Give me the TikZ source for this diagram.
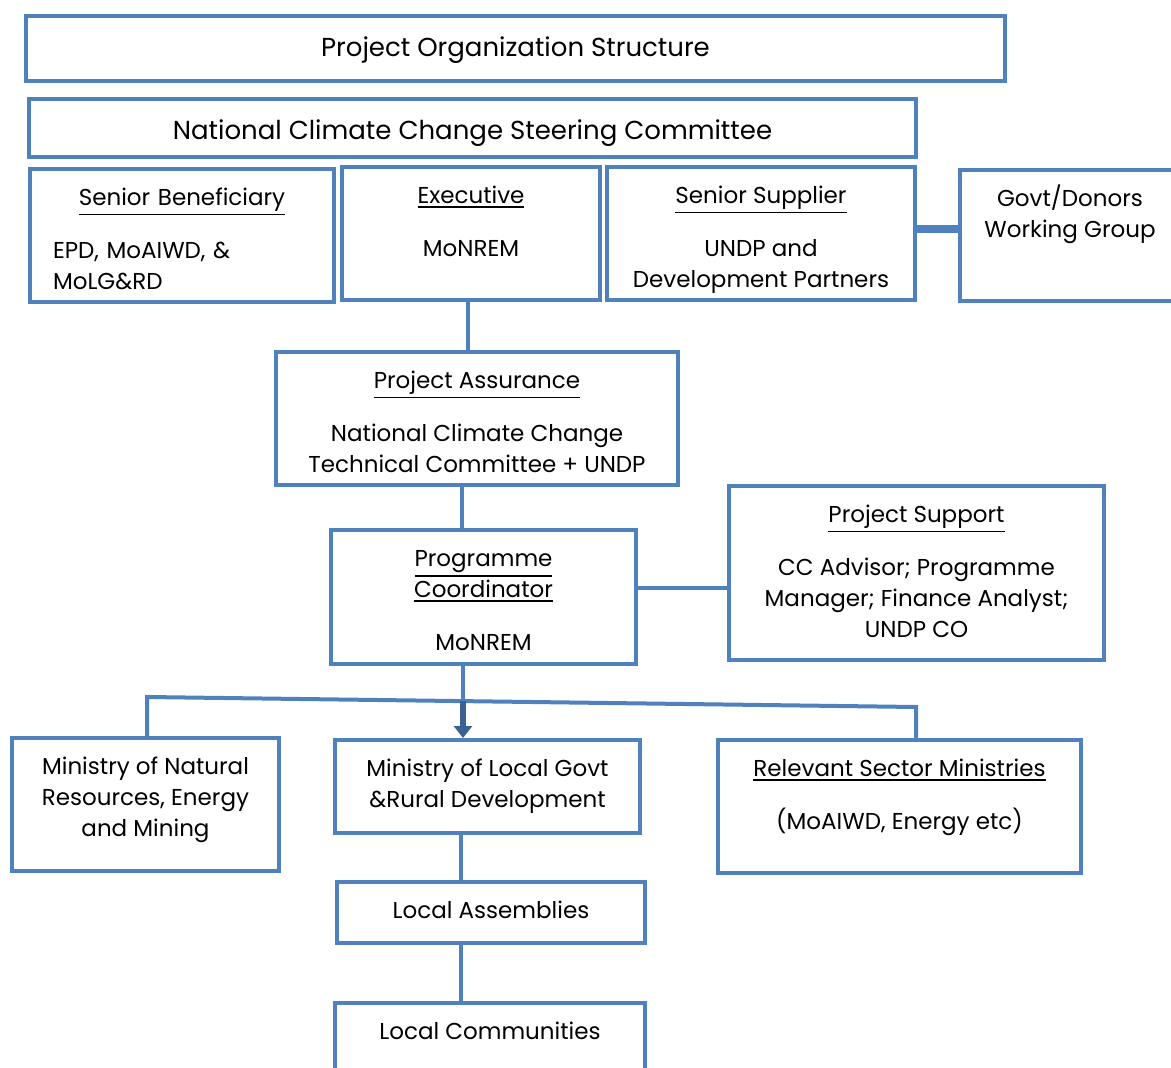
\documentclass[tikz,border=0pt]{standalone}
\usepackage{fontspec}
\setmainfont{Poppins}
\usetikzlibrary{arrows.meta, positioning}
\definecolor{ccblue}{HTML}{4F81BD}
\definecolor{ccdark}{HTML}{3A6293}
\newcommand{\undl}[1]{\setbox0\hbox{#1}\rlap{\vrule width\wd0 height -\dimexpr\dp0+2pt\relax depth \dimexpr\dp0+3.5pt\relax}\box0}

\tikzset{
  box/.style 2 args={draw=ccblue, line width=4pt, minimum width=#1, minimum height=#2, inner sep=0pt},
  txt/.style={anchor=north, yshift=-17pt, inner sep=0pt, align=center, font=\fontsize{23}{31}\selectfont},
  head/.style={txt, yshift=-4pt, font=\fontsize{26}{31}\selectfont},
  link/.style={draw=ccblue, line width=4pt},
}

\begin{document}
\begin{tikzpicture}[x=1pt, y=-1pt]
\useasboundingbox (0,0) rectangle (1171,1068);
\clip (0,0) rectangle (1171,1068);

% board
\node[box={979pt}{65pt}, label={[head]north:{\strut Project Organization Structure}}] (title) at (515.5,48.5) {};
\node[box={887pt}{58pt}, label={[head]north:{\strut National Climate Change Steering Committee}}] (nccsc) at (472.5,128) {};
\node[box={304pt}{133pt}, label={[txt, text width=258pt, align=left]north:{\strut\makebox[258pt]{\undl{Senior Beneficiary}}\\[22pt] EPD, MoAIWD, \&\\ MoLG\&RD}}] (sb) at (182,235.5) {};
\node[box={258pt}{133pt}, label={[txt]north:{\strut\undl{Executive}\\[22pt] MoNREM}}] (ex) at (471,233.5) {};
\node[box={308pt}{133pt}, label={[txt]north:{\strut\undl{Senior Supplier}\\[22pt] UNDP and\\ Development Partners}}] (ss) at (761,233.5) {};
\node[box={220pt}{131pt}, label={[txt]north:{\strut Govt/Donors\\ Working Group}}] (gd) at (1070,235.5) {};

% management
\node[box={402pt}{133pt}, label={[txt]north:{\strut\undl{Project Assurance}\\[22pt] National Climate Change\\ Technical Committee + UNDP}}] (pa) at (477,418.5) {};
\node[box={305pt}{134pt}, label={[txt]north:{\strut\undl{Programme}\\ \undl{Coordinator}\\[22pt] MoNREM}}] (pc) at (483.5,597) {};
\node[box={375pt}{174pt}, label={[txt]north:{\strut\undl{Project Support}\\[22pt] CC Advisor; Programme\\ Manager; Finance Analyst;\\ UNDP CO}}] (ps) at (916.5,573) {};

% implementation
\node[box={267pt}{133pt}, label={[txt]north:{\strut Ministry of Natural\\ Resources, Energy\\ and Mining}}] (mn) at (145.5,804.5) {};
\node[box={305pt}{93pt}, label={[txt]north:{\strut Ministry of Local Govt\\ \&Rural Development}}] (ml) at (487.5,786.5) {};
\node[box={363pt}{133pt}, label={[txt]north:{\strut\undl{Relevant Sector Ministries}\\[22pt] (MoAIWD, Energy etc)}}] (rs) at (899.5,806.5) {};
\node[box={308pt}{61pt}, label={[txt]north:{\strut Local Assemblies}}] (la) at (491,912.5) {};
\node[box={310pt}{97pt}, label={[txt]north:{\strut Local Communities}}] (lc) at (490,1051.5) {};

\coordinate (barL) at (147,697);
\coordinate (barR) at (916,707);
\coordinate (hub) at (463,701.1);

\path[link]
  ([xshift=-3pt]ex.south) edge ([xshift=-3pt]ex.south |- pa.north)
  ([xshift=-15pt]pa.south) edge ([xshift=-15pt]pa.south |- pc.north)
  ([yshift=9pt]pc.east) edge ([yshift=9pt]pc.east -| ps.west)
  (pc.south -| hub) edge (hub)
  ([xshift=-27pt]ml.south) edge ([xshift=-27pt]ml.south |- la.north)
  ([xshift=-30pt]la.south) edge ([xshift=-30pt]la.south |- lc.north);
\draw[link, line width=8pt] ([yshift=4.5pt]ss.east) -- ([yshift=4.5pt]ss.east -| gd.west);
\draw[link] (mn.north -| barL) -- (barL) -- (barR) -- (barR |- rs.north);
\draw[ccdark, line width=6pt, -{Triangle[width=18pt,length=12pt]}] (hub) -- (hub |- ml.north);
\end{tikzpicture}
\end{document}
